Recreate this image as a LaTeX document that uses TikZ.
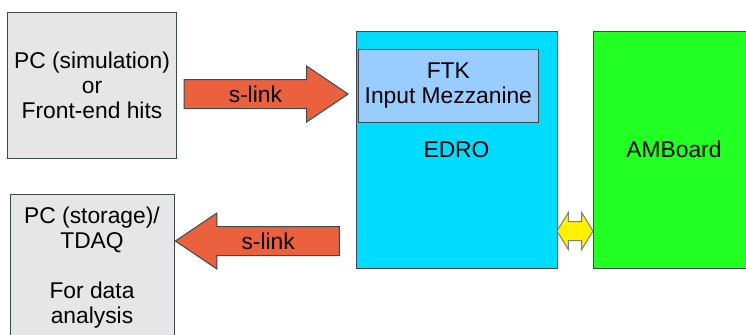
\documentclass[tikz,border=0pt]{standalone}
\usepackage{fontspec}
\setmainfont{Liberation Sans}
\usetikzlibrary{shapes.arrows,positioning}

\definecolor{boxgrey}{HTML}{E6E6E6}
\definecolor{linkred}{HTML}{EB613E}
\definecolor{edrocyan}{HTML}{00DCFF}
\definecolor{mezzblue}{HTML}{99CCFF}
\definecolor{amgreen}{HTML}{22FF22}
\definecolor{edgegrey}{HTML}{3C4850}

\tikzset{
  pcbox/.style={draw=edgegrey, fill=boxgrey, minimum width=82pt, align=center},
  board/.style={draw=edgegrey, minimum height=118.5pt},
  slink/.style={single arrow, draw=edgegrey, fill=linkred, minimum height=82pt,
    single arrow head extend=6.75pt, single arrow tip angle=68,
    text height=8pt, text depth=0pt, inner ysep=3pt, inner xsep=2pt},
}

\begin{document}
\begin{tikzpicture}[x=0.5pt, y=-0.5pt, font=\fontsize{11.4}{12.5}\selectfont, line width=0.5pt]
\useasboundingbox (0,0) rectangle (746,334);
\clip (0,0) rectangle (746,334);

% the two PCs
\node[pcbox, minimum height=73pt] (pcsim) at (92,85) {PC (simulation)\\or\\Front-end hits};
\node[pcbox, minimum height=74pt] (pcstore) at (92,268) {PC (storage)/\\TDAQ\\\mbox{}\\For data\\analysis};

% boards
\node[board, fill=edrocyan, minimum width=100.5pt] (edro) at (456.5,149.5) {EDRO};
\node[board, fill=amgreen, minimum width=81pt] (amb) at (674,149.5) {AMBoard};
\node[draw=edgegrey, fill=mezzblue, minimum width=89.5pt, minimum height=36.5pt,
    align=center, anchor=north west] (mezz) at ([shift={(1pt,-9pt)}]edro.north west)
    {FTK\\Input Mezzanine};

% links
\node[slink, anchor=tip] (inlink) at (349,94) {s-link};
\node[slink, shape border rotate=180, anchor=tip] (outlink) at (pcstore.east |- 0,241) {s-link};
\node[double arrow, draw=edgegrey!70, fill=yellow, minimum height=18pt, minimum width=18pt,
    inner xsep=0pt, inner ysep=4.5pt,
    double arrow head extend=4.5pt, double arrow tip angle=117] (amlink) at (575,231) {};

\end{tikzpicture}
\end{document}
